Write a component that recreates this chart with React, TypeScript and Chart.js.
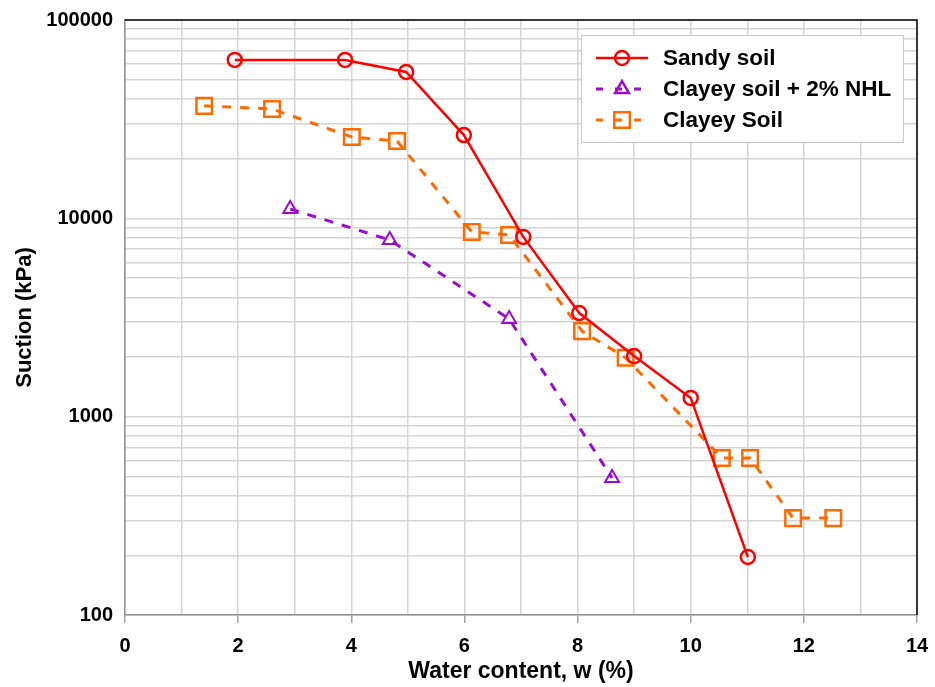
import React, { useEffect, useRef } from "react";
import { Chart, registerables } from "chart.js";

Chart.register(...registerables);

const sandyW = [1.94, 3.89, 4.97, 5.99, 7.04, 8.03, 9.0, 10.0, 11.01];
const sandyS = [62900, 62900, 54700, 26300, 8060, 3330, 2020, 1243, 196];

const nhlW = [2.92, 4.68, 6.79, 8.61];
const nhlS = [11150, 7780, 3110, 491];

const clayW = [1.4, 2.6, 4.01, 4.81, 6.13, 6.79, 8.08, 8.85, 10.55, 11.05, 11.81, 12.52];
const clayS = [36900, 35600, 25700, 24550, 8540, 8250, 2700, 1980, 619, 619, 308, 308];

const seriesNames = ["Sandy soil", "Clayey soil + 2% NHL", "Clayey Soil"];
const xTitle = "Water content, w (%)";
const yTitle = "Suction (kPa)";

const RED = "#ff0000";
const PURPLE = "#9a0ccf";
const ORANGE = "#ff6a00";
const FONT = "'Liberation Sans', Arial, sans-serif";

function pts(xs: number[], ys: number[]) {
  return xs.map((x, i) => ({ x, y: ys[i] }));
}

function drawMarker(ctx: CanvasRenderingContext2D, style: string, x: number, y: number, r: number) {
  ctx.beginPath();
  if (style === "circle") {
    ctx.arc(x, y, r, 0, Math.PI * 2);
  } else if (style === "triangle") {
    ctx.moveTo(x, y - r);
    ctx.lineTo(x + r * Math.sin(Math.PI / 3), y + r * 0.5);
    ctx.lineTo(x - r * Math.sin(Math.PI / 3), y + r * 0.5);
    ctx.closePath();
  } else {
    const s = r * Math.SQRT1_2;
    ctx.rect(x - s, y - s, 2 * s, 2 * s);
  }
  ctx.stroke();
}

const framePlugin = {
  id: "frame",
  afterDraw(chart: any) {
    const { ctx, chartArea } = chart;
    ctx.save();
    ctx.strokeStyle = "#000";
    ctx.lineWidth = 1.5;
    ctx.beginPath();
    ctx.moveTo(chartArea.left, chartArea.top);
    ctx.lineTo(chartArea.right, chartArea.top);
    ctx.lineTo(chartArea.right, chartArea.bottom);
    ctx.stroke();

    // legend
    const bx = 581, by = 35, bw = 322, bh = 107;
    ctx.fillStyle = "#fff";
    ctx.fillRect(bx, by, bw, bh);
    ctx.strokeStyle = "#c8c8c8";
    ctx.lineWidth = 1;
    ctx.strokeRect(bx + 0.5, by + 0.5, bw, bh);
    const rows = [
      { y: 58, color: RED, dash: [] as number[], style: "circle", r: 7, lw: 2.5 },
      { y: 89, color: PURPLE, dash: [7, 12], style: "triangle", r: 8, lw: 3 },
      { y: 120, color: ORANGE, dash: [7, 12], style: "rect", r: 11, lw: 3 },
    ];
    rows.forEach((row, i) => {
      ctx.strokeStyle = row.color;
      ctx.lineWidth = row.lw;
      ctx.setLineDash(row.dash);
      ctx.beginPath();
      ctx.moveTo(596, row.y);
      ctx.lineTo(648, row.y);
      ctx.stroke();
      ctx.setLineDash([]);
      ctx.lineWidth = 2.5;
      drawMarker(ctx, row.style, 622, row.y, row.r);
      ctx.fillStyle = "#000";
      ctx.font = `bold 22.5px ${FONT}`;
      ctx.textBaseline = "middle";
      ctx.textAlign = "left";
      ctx.fillText(seriesNames[i], 663, row.y + 1);
    });
    ctx.restore();
  },
};

export default function App() {
  const ref = useRef<HTMLCanvasElement>(null);
  useEffect(() => {
    if (!ref.current) return;
    const isDecade = (v: number) => Math.abs(Math.log10(v) - Math.round(Math.log10(v))) < 1e-9;
    const chart = new Chart(ref.current, {
      type: "line",
      data: {
        datasets: [
          {
            label: seriesNames[0],
            data: pts(sandyW, sandyS),
            borderColor: RED,
            borderWidth: 2.5,
            pointStyle: "circle",
            pointRadius: 7,
            pointBorderWidth: 2.5,
            pointBorderColor: RED,
            pointBackgroundColor: "transparent",
            tension: 0,
          },
          {
            label: seriesNames[1],
            data: pts(nhlW, nhlS),
            borderColor: PURPLE,
            borderWidth: 3,
            borderDash: [9, 9],
            pointStyle: "triangle",
            pointRadius: 8,
            pointBorderWidth: 2,
            pointBorderColor: PURPLE,
            pointBackgroundColor: "transparent",
            tension: 0,
          },
          {
            label: seriesNames[2],
            data: pts(clayW, clayS),
            borderColor: ORANGE,
            borderWidth: 3,
            borderDash: [9, 9],
            pointStyle: "rect",
            pointRadius: 11,
            pointBorderWidth: 2.5,
            pointBorderColor: ORANGE,
            pointBackgroundColor: "transparent",
            tension: 0,
          },
        ],
      },
      options: {
        animation: false,
        responsive: false,
        maintainAspectRatio: false,
        layout: { padding: { top: 20, right: 18, left: 0, bottom: 0 } },
        plugins: { legend: { display: false }, tooltip: { enabled: false } },
        scales: {
          x: {
            type: "linear",
            min: 0,
            max: 14,
            ticks: {
              stepSize: 1,
              autoSkip: false,
              maxRotation: 0,
              padding: 11,
              color: "#000",
              font: { family: FONT, size: 20, weight: "bold" },
              callback: (v: any) => (Number(v) % 2 === 0 ? String(v) : ""),
            },
            grid: {
              color: "#d4d4d4",
              lineWidth: 1.5,
              tickLength: 8,
              tickColor: (c: any) => (c.tick && c.tick.value % 2 === 0 ? "#a0a0a0" : "transparent"),
            },
            border: { color: "#909090", width: 1.5 },
            title: {
              display: true,
              text: xTitle,
              color: "#000",
              font: { family: FONT, size: 23, weight: "bold" },
              padding: { top: 0, bottom: 2 },
            },
            afterFit: (s: any) => {
              s.height = 72;
              s.paddingLeft = 0;
              s.paddingRight = 0;
            },
          },
          y: {
            type: "logarithmic",
            min: 100,
            max: 100000,
            afterBuildTicks: (s: any) => {
              const t: any[] = [];
              for (let d = 100; d < 100000; d *= 10) {
                for (let m = 1; m < 10; m++) t.push({ value: d * m, major: m === 1 });
              }
              t.push({ value: 100000, major: true });
              s.ticks = t;
            },
            ticks: {
              autoSkip: false,
              padding: 12,
              color: "#000",
              font: { family: FONT, size: 20, weight: "bold" },
              callback: (v: any) => (isDecade(Number(v)) ? String(v) : ""),
            },
            grid: {
              color: "#d4d4d4",
              lineWidth: 1.5,
              drawTicks: false,
            },
            border: { color: "#909090", width: 1.5 },
            title: {
              display: true,
              text: yTitle,
              color: "#000",
              font: { family: FONT, size: 22, weight: "bold" },
              padding: { top: 12, bottom: 0 },
            },
            afterFit: (s: any) => {
              s.width = 125;
              s.paddingTop = 0;
              s.paddingBottom = 0;
            },
          },
        },
      } as any,
      plugins: [framePlugin],
    });
    return () => chart.destroy();
  }, []);
  return (
    <div style={{ position: "fixed", left: 0, top: 0, width: 935, height: 687, background: "#fff" }}>
      <canvas ref={ref} width={935} height={687} style={{ width: 935, height: 687 }} />
    </div>
  );
}
